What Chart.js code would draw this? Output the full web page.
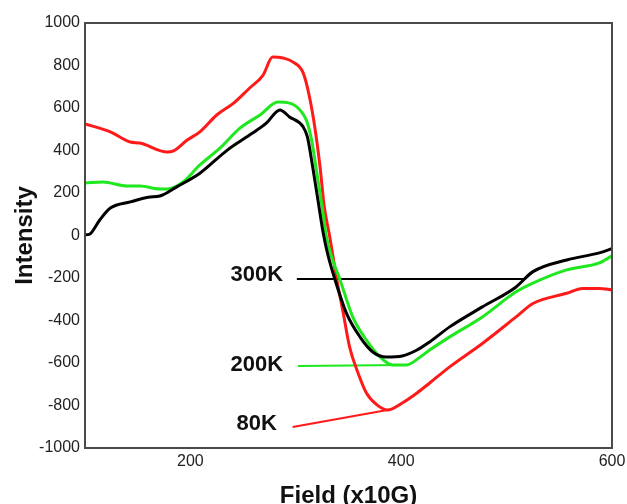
<!DOCTYPE html>
<html>
<head>
<meta charset="utf-8">
<script src="https://cdn.jsdelivr.net/npm/chart.js@4.4.0/dist/chart.umd.min.js"></script>
<style>
body { margin: 0; background: #fff; }
#grafico { display: block; }
</style>
</head>
<body>
<canvas id="grafico" width="627" height="504"></canvas>
<script>
// Datos (campo en x10G, intensidad)
const campo300 = [100, 104, 114, 124, 143, 160, 171, 187, 209, 235, 259, 272, 285, 294, 307, 311, 316, 321, 326, 330, 337, 348, 361, 373, 386, 401, 415, 427, 446, 477, 509, 525, 557, 588, 600];
const int300   = [3, 5, 73, 129, 158, 180, 186, 229, 293, 402, 482, 529, 591, 558, 511, 464, 323, 167, 12, -82, -205, -365, -478, -548, -572, -567, -539, -501, -430, -336, -242, -170, -115, -82, -62];

const campo200 = [100, 117, 140, 152, 171, 178, 193, 209, 228, 247, 266, 283, 294, 304, 310, 315, 320, 325, 329, 334, 342, 354, 367, 380, 392, 401, 405, 418, 427, 446, 477, 509, 525, 557, 588, 600];
const int200   = [247, 252, 233, 233, 219, 219, 252, 332, 411, 505, 567, 628, 623, 591, 543, 449, 293, 135, -5, -100, -209, -383, -492, -572, -609, -609, -609, -572, -539, -477, -383, -265, -224, -162, -129, -96];

const campo80 = [100, 124, 143, 152, 178, 184, 197, 209, 225, 241, 256, 269, 278, 288, 297, 307, 313, 318, 323, 327, 332, 339, 345, 351, 358, 367, 377, 387, 401, 415, 427, 446, 477, 509, 525, 557, 572, 588, 600];
const int80   = [525, 488, 440, 435, 393, 398, 449, 488, 567, 623, 693, 755, 840, 835, 817, 765, 652, 511, 323, 135, 0, -209, -365, -524, -633, -741, -797, -821, -788, -741, -694, -618, -508, -383, -320, -272, -249, -249, -256];

// lineas que unen cada etiqueta con su curva
const lineaX300 = [301, 517];
const lineaY300 = [-205, -205];
const lineaX200 = [302, 401];
const lineaY200 = [-614, -609];
const lineaX80 = [297, 387];
const lineaY80 = [-901, -821];

const ticksX = [200, 400, 600];
const nombres = ['300K', '200K', '80K'];

const puntos = (xs, ys) => xs.map((x, i) => ({ x, y: ys[i] }));

// donde va cada texto (en unidades de los ejes, borde derecho del texto)
const anclas = [
  { x: 288, y: -186 },
  { x: 288, y: -609 },
  { x: 282, y: -887 }
];

const fuente = 'Liberation Sans, Arial, sans-serif';

const textosCurvas = {
  id: 'textosCurvas',
  afterDatasetsDraw(chart) {
    const { ctx, scales: { x, y } } = chart;
    ctx.save();
    ctx.font = 'bold 22px ' + fuente;
    ctx.fillStyle = '#111';
    ctx.textAlign = 'right';
    ctx.textBaseline = 'middle';
    nombres.forEach((n, i) => {
      ctx.fillText(n, x.getPixelForValue(anclas[i].x), y.getPixelForValue(anclas[i].y));
    });
    ctx.restore();
  }
};

// marco alrededor del area del grafico
const marco = {
  id: 'marco',
  afterDraw(chart) {
    const { ctx, chartArea: a } = chart;
    ctx.save();
    ctx.strokeStyle = '#4a4a4a';
    ctx.lineWidth = 2;
    ctx.strokeRect(a.left, a.top, a.right - a.left, a.bottom - a.top);
    ctx.restore();
  }
};

function serie(label, datos, color, ancho) {
  return {
    label,
    data: datos,
    borderColor: color,
    backgroundColor: color,
    borderWidth: ancho,
    pointRadius: 0,
    fill: false,
    cubicInterpolationMode: 'monotone'
  };
}

new Chart(document.getElementById('grafico').getContext('2d'), {
  type: 'line',
  data: {
    datasets: [
      serie('300K', puntos(campo300, int300), '#000000', 3),
      serie('200K', puntos(campo200, int200), '#1fe81f', 3),
      serie('80K', puntos(campo80, int80), '#ff1a1a', 3),
      serie('l300', puntos(lineaX300, lineaY300), '#000000', 2),
      serie('l200', puntos(lineaX200, lineaY200), '#1fe81f', 2),
      serie('l80', puntos(lineaX80, lineaY80), '#ff1a1a', 2)
    ]
  },
  options: {
    responsive: false,
    animation: false,
    devicePixelRatio: 1,
    layout: { padding: { top: 23, right: 15, left: 0, bottom: 0 } },
    plugins: {
      legend: { display: false },
      tooltip: { enabled: false }
    },
    scales: {
      x: {
        type: 'linear',
        min: 100,
        max: 600,
        afterBuildTicks: s => { s.ticks = ticksX.map(v => ({ value: v })); },
        afterFit: s => { s.height = 56; s.paddingRight = 0; s.paddingLeft = 0; },
        grid: { display: false, drawTicks: false },
        border: { display: false },
        ticks: { font: { family: fuente, size: 16 }, color: '#222', padding: 4, maxRotation: 0, callback: v => String(v) },
        title: {
          display: true,
          text: 'Field (x10G)',
          color: '#111',
          font: { family: fuente, size: 24, weight: 'bold', lineHeight: 0.65 },
          padding: 0
        }
      },
      y: {
        min: -1000,
        max: 1000,
        afterFit: s => { s.width = 85; },
        grid: { display: false, drawTicks: false },
        border: { display: false },
        ticks: { stepSize: 200, autoSkip: false, font: { family: fuente, size: 16 }, color: '#222', padding: 5, callback: v => String(v) },
        title: {
          display: true,
          text: 'Intensity',
          color: '#111',
          font: { family: fuente, size: 24, weight: 'bold', lineHeight: 1 },
          padding: { top: 13, bottom: 0 }
        }
      }
    }
  },
  plugins: [textosCurvas, marco]
});
</script>
</body>
</html>
